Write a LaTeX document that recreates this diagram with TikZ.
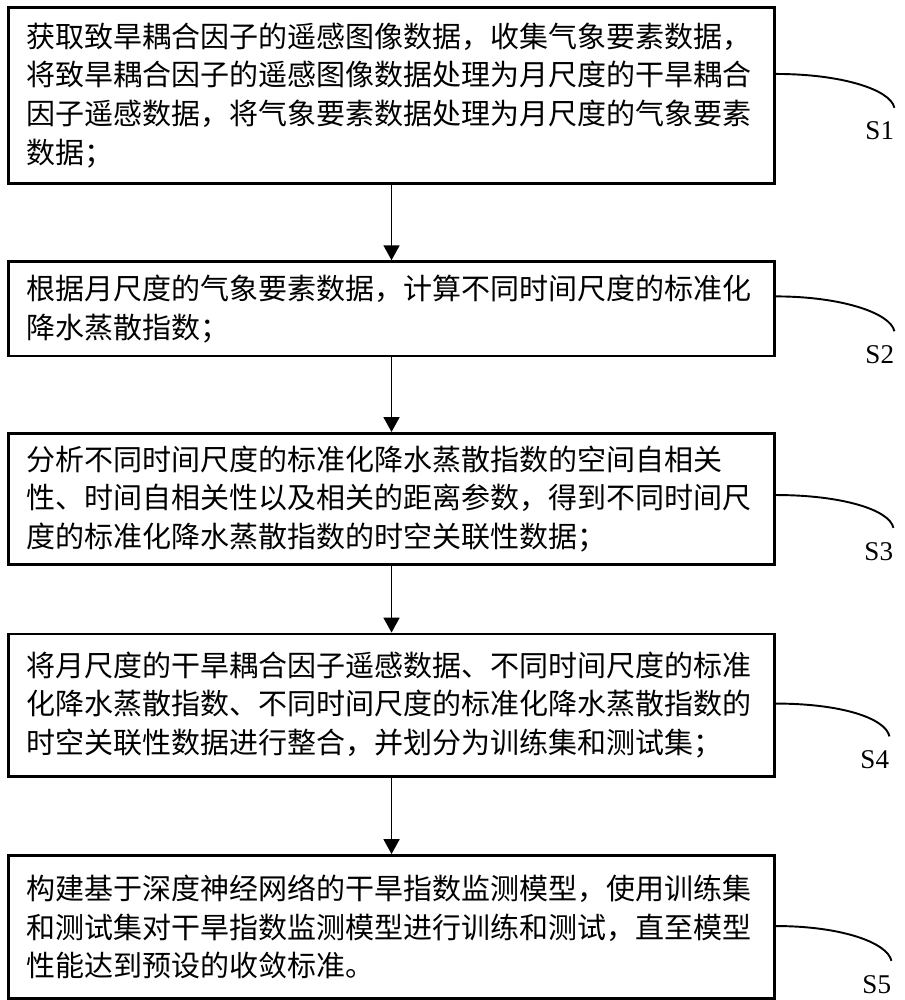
\documentclass[tikz,border=0pt]{standalone}
\usepackage{fontspec}
\setmainfont{Liberation Serif}
\newfontfamily\cjk{Noto Sans CJK SC}
\usetikzlibrary{positioning, arrows.meta}
\tikzstyle{stepbox} = [rectangle, draw=black, line width=1.6pt, minimum width=15.42cm, text width=14.7cm, inner xsep=0.36cm, inner ysep=0.05cm, align=left, font=\cjk\fontsize{16.6pt}{22.2pt}\selectfont]
\tikzstyle{arrow} = [line width=1.1pt, -{Triangle[length=0.3cm, width=0.32cm]}]
\tikzstyle{lead} = [line width=1.1pt]
\tikzstyle{steplabel} = [inner sep=0pt, anchor=north east, font=\fontsize{15.5pt}{15.5pt}\selectfont]

\begin{document}
\begin{tikzpicture}
			\node (s1) [stepbox, minimum height=3.54cm] at (0,0) {获取致旱耦合因子的遥感图像数据，收集气象要素数据，\\将致旱耦合因子的遥感图像数据处理为月尺度的干旱耦合\\因子遥感数据，将气象要素数据处理为月尺度的气象要素\\数据；};
			\node (s2) [stepbox, minimum height=1.9cm, below=1.52cm of s1] {根据月尺度的气象要素数据，计算不同时间尺度的标准化\\降水蒸散指数；};
			\node (s3) [stepbox, minimum height=2.64cm, below=1.5cm of s2] {分析不同时间尺度的标准化降水蒸散指数的空间自相关\\性、时间自相关性以及相关的距离参数，得到不同时间尺\\度的标准化降水蒸散指数的时空关联性数据；};
			\node (s4) [stepbox, minimum height=2.86cm, below=1.34cm of s3] {将月尺度的干旱耦合因子遥感数据、不同时间尺度的标准\\化降水蒸散指数、不同时间尺度的标准化降水蒸散指数的\\时空关联性数据进行整合，并划分为训练集和测试集；};
			\node (s5) [stepbox, minimum height=2.88cm, below=1.54cm of s4] {构建基于深度神经网络的干旱指数监测模型，使用训练集\\和测试集对干旱指数监测模型进行训练和测试，直至模型\\性能达到预设的收敛标准。};

			\useasboundingbox ([xshift=-0.14cm, yshift=0.12cm]s1.north west) rectangle ++(18.2,-20);

			\draw [arrow] (s1) -- (s2);
			\draw [arrow] (s2) -- (s3);
			\draw [arrow] (s3) -- (s4);
			\draw [arrow] (s4) -- (s5);

			\coordinate (s1tap) at ([yshift=0.43cm]s1.east);
			\coordinate (s2tap) at ([yshift=0.25cm]s2.east);
			\coordinate (s3tap) at ([yshift=0.08cm]s3.east);
			\coordinate (s4tap) at ([yshift=0.03cm]s4.east);
			\coordinate (s5tap) at ([yshift=0.02cm]s5.east);
			\coordinate (s1end) at ([xshift=2.38cm, yshift=-0.68cm]s1tap);
			\coordinate (s2end) at ([xshift=2.38cm, yshift=-0.7cm]s2tap);
			\coordinate (s3end) at ([xshift=2.36cm, yshift=-0.66cm]s3tap);
			\coordinate (s4end) at ([xshift=2.28cm, yshift=-0.66cm]s4tap);
			\coordinate (s5end) at ([xshift=2.32cm, yshift=-0.7cm]s5tap);

			\draw [lead] (s1tap) .. controls ([xshift=1.3cm]s1tap) and ([xshift=-0.08cm, yshift=0.37cm]s1end) .. (s1end);
			\draw [lead] (s2tap) .. controls ([xshift=1.3cm]s2tap) and ([xshift=-0.08cm, yshift=0.37cm]s2end) .. (s2end);
			\draw [lead] (s3tap) .. controls ([xshift=1.3cm]s3tap) and ([xshift=-0.08cm, yshift=0.37cm]s3end) .. (s3end);
			\draw [lead] (s4tap) .. controls ([xshift=1.3cm]s4tap) and ([xshift=-0.08cm, yshift=0.37cm]s4end) .. (s4end);
			\draw [lead] (s5tap) .. controls ([xshift=1.3cm]s5tap) and ([xshift=-0.08cm, yshift=0.37cm]s5end) .. (s5end);

			\node (s1lab) [steplabel] at ([yshift=-0.28cm]s1end) {S1};
			\node (s2lab) [steplabel] at ([yshift=-0.28cm]s2end) {S2};
			\node (s3lab) [steplabel] at ([yshift=-0.28cm]s3end) {S3};
			\node (s4lab) [steplabel] at ([yshift=-0.28cm]s4end) {S4};
			\node (s5lab) [steplabel] at ([yshift=-0.28cm]s5end) {S5};
		\end{tikzpicture}
\end{document}
